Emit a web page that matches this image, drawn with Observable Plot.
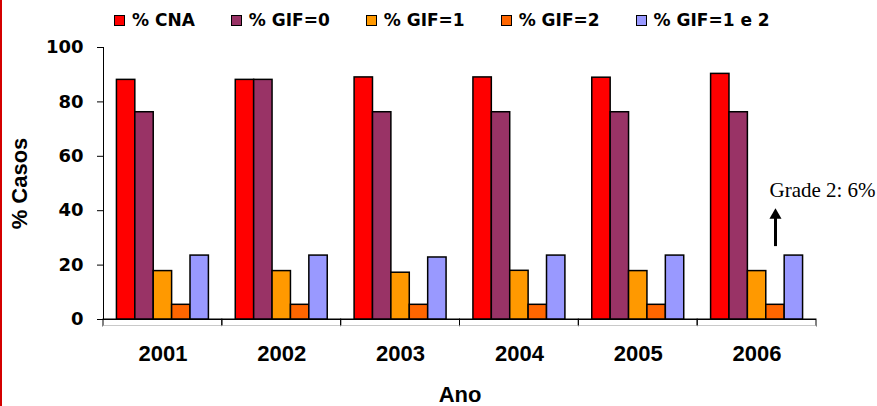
<!DOCTYPE html>
<html><head><meta charset="utf-8">
<script src="https://cdn.jsdelivr.net/npm/d3@7"></script>
<script src="https://cdn.jsdelivr.net/npm/@observablehq/plot@0.6"></script>
<style>
body{margin:0;background:#fff;width:877px;height:406px;position:relative;overflow:hidden;}
#border{position:absolute;left:0;top:0;width:2px;height:406px;background:#d40000;}
#legend{height:34px;display:flex;align-items:center;padding-left:114px;padding-top:6px;box-sizing:border-box;gap:36px;font:bold 17px "DejaVu Sans";color:#000;}
.item{display:flex;align-items:center;white-space:pre;}
.sw{width:9px;height:9px;border:1px solid #000;margin-right:7px;}
</style></head><body>
<div id="border"></div>
<div id="legend"></div>
<div id="chart"></div>
<script>
const years = ["2001", "2002", "2003", "2004", "2005", "2006"];
const seriesNames = ["% CNA", "% GIF=0", "% GIF=1", "% GIF=2", "% GIF=1 e 2"];
const seriesColors = ["#ff0000", "#993366", "#ff9900", "#ff6600", "#9999ff"];
const cna   = [88.1, 88.1, 89.0, 89.0, 88.9, 90.3];
const gif0  = [76.2, 88.1, 76.2, 76.2, 76.2, 76.2];
const gif1  = [17.8, 17.8, 17.2, 17.9, 17.8, 17.8];
const gif2  = [5.4, 5.4, 5.4, 5.4, 5.4, 5.4];
const gif12 = [23.5, 23.5, 22.8, 23.5, 23.5, 23.5];
const yTicks = [0, 20, 40, 60, 80, 100];
const noteYear = "2006";
const noteSeries = "% GIF=2";
const noteLabel = "Grade 2: 6%";
const noteLabelY = 47.5;
const noteArrowFrom = 26.8;
const noteArrowTo = 37.5;
const noteArrowTip = 38.3;

const seriesValues = [cna, gif0, gif1, gif2, gif12];
const rows = years.flatMap((yr, i) => seriesNames.map((s, j) => ({year: yr, series: s, value: seriesValues[j][i]})));
const notes = [{year: noteYear, series: noteSeries, label: noteLabel, ly: noteLabelY, from: noteArrowFrom, to: noteArrowTo, tip: noteArrowTip}];

const legend = document.getElementById("legend");
seriesNames.forEach((s, j) => {
  const it = document.createElement("div"); it.className = "item";
  const sw = document.createElement("span"); sw.className = "sw"; sw.style.background = seriesColors[j];
  const tx = document.createElement("span"); tx.textContent = s;
  it.appendChild(sw); it.appendChild(tx); legend.appendChild(it);
});

const chart = Plot.plot({
  width: 877, height: 372,
  marginTop: 13, marginBottom: 87, marginLeft: 103, marginRight: 61,
  style: {background: "white", color: "black", overflow: "visible"},
  fx: {domain: years, paddingInner: 0, paddingOuter: 0, round: false},
  x: {domain: seriesNames, paddingInner: 0, paddingOuter: 0.73, round: false, axis: null},
  y: {domain: [0, 100]},
  color: {domain: seriesNames, range: seriesColors},
  marks: [
    Plot.rect([0], {y1: 0, y2: -2.6, stroke: "black", fill: "none", strokeWidth: 1}),
    Plot.ruleY([-2.6], {stroke: "white", strokeWidth: 2}),
    Plot.frame({anchor: "left", fx: () => years[0], stroke: "black", strokeWidth: 1}),
    Plot.barY(rows, {fx: "year", x: "series", y: "value", fill: "series", stroke: "black", strokeWidth: 1.5}),
    Plot.ruleY([0], {stroke: "black", strokeWidth: 1}),
    Plot.axisY({ticks: yTicks, tickSize: 6, tickPadding: 14, fontSize: 18, fontFamily: "DejaVu Sans", fontWeight: "bold", label: null, stroke: "black"}),
    Plot.axisY({ticks: [], tickSize: 0, fontSize: 22, fontFamily: "Liberation Sans", fontWeight: "bold", label: "% Casos", labelArrow: false, labelAnchor: "center", labelOffset: 92}),
    Plot.axisFx({anchor: "bottom", tickSize: 0, tickPadding: 26, fontSize: 22, fontFamily: "Liberation Sans", fontWeight: "bold", label: "Ano", labelArrow: false, labelAnchor: "center", labelOffset: 82}),
    Plot.ruleX(notes, {fx: "year", x: "series", y1: "from", y2: "to", strokeWidth: 3, stroke: "black"}),
    Plot.dot(notes, {fx: "year", x: "series", y: "tip", symbol: "triangle", r: 4.5, fill: "black", stroke: "none"}),
    Plot.text(notes, {fx: "year", x: "series", y: "ly", text: "label", textAnchor: "start", dx: -6, fontFamily: "Liberation Serif", fontSize: 21, fill: "black"})
  ]
});
document.getElementById("chart").appendChild(chart);
</script>
</body></html>
